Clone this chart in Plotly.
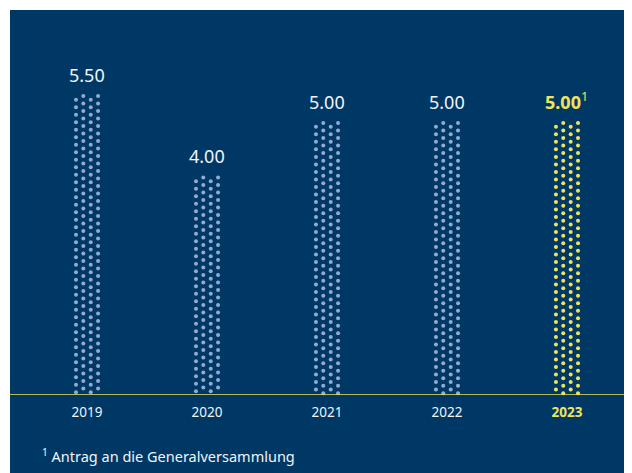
import numpy as np
import plotly.graph_objects as go

years = ['2019', '2020', '2021', '2022', '2023']
dividend = [5.50, 4.00, 5.00, 5.00, 5.00]
labels = ['5.50', '4.00', '5.00', '5.00', '<b>5.00</b><sup>1</sup>']
footnote = '<sup>1</sup> Antrag an die Generalversammlung'

NAVY = '#003865'
DOT = '#93abd0'
YELLOW = '#f2e45a'
WHITE = '#f2f4f8'
FONT = 'Noto Sans'

fig = go.Figure()

# dotted columns: 4 staggered dot columns per bar, built from the value
step = 0.138
offsets = [-0.092, -0.031, 0.031, 0.092]
for i, (yr, v) in enumerate(zip(years, dividend)):
    xs, ys = [], []
    for c, dx in enumerate(offsets):
        start = v - (step / 2 if c % 2 == 0 else 0)
        col = np.arange(start, 0.02, -step)
        xs += [i + dx] * len(col)
        ys += list(col)
    fig.add_trace(go.Scatter(
        x=xs, y=ys, mode='markers',
        marker=dict(size=4, color=YELLOW if i == len(years) - 1 else DOT),
        hoverinfo='skip', showlegend=False, cliponaxis=False,
    ))

for i, (v, t) in enumerate(zip(dividend, labels)):
    last = i == len(years) - 1
    fig.add_annotation(x=i, y=v, text=t, showarrow=False, yanchor='bottom', yshift=7,
                       font=dict(family=FONT, size=18, color=YELLOW if last else WHITE))

fig.add_annotation(xref='paper', yref='paper', x=0.048, y=-0.158, text=footnote,
                   showarrow=False, xanchor='left', yanchor='middle',
                   font=dict(family=FONT, size=14.5, color=WHITE))

ticktext = years[:-1] + [f'<span style="color:{YELLOW}"><b>{years[-1]}</b></span>']

fig.update_xaxes(range=[-0.642, 4.542], tickvals=list(range(len(years))), ticktext=ticktext,
                 showgrid=False, zeroline=False, showline=False,
                 ticks='', ticklabelstandoff=7, tickfont=dict(family=FONT, size=13.5, color=WHITE))
fig.update_yaxes(range=[0, 7.08], visible=False)

# yellow baseline across the whole panel
fig.add_shape(type='line', xref='paper', yref='y', x0=0, x1=1, y0=0, y1=0,
              line=dict(color=YELLOW, width=1.5), layer='above')

# page body adds 8px; thin white strips on the left and top of the navy panel
fig.add_shape(type='rect', xref='paper', yref='paper', x0=-2/622, x1=0, y0=-78/385, y1=1 + 2/385,
              fillcolor='white', line_width=0, layer='above')
fig.add_shape(type='rect', xref='paper', yref='paper', x0=-2/622, x1=1, y0=1, y1=1 + 2/385,
              fillcolor='white', line_width=0, layer='above')

fig.update_layout(
    width=624, height=465,
    margin=dict(l=2, r=0, t=2, b=78),
    paper_bgcolor=NAVY, plot_bgcolor=NAVY,
    showlegend=False,
)

fig.write_html('out.html')
